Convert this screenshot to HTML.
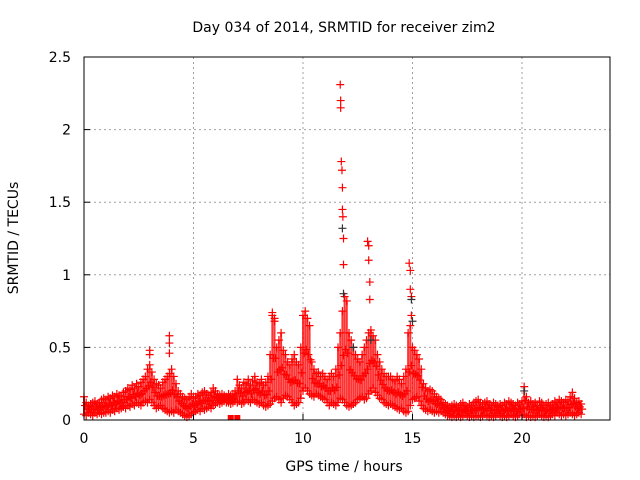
<!DOCTYPE html>
<html><head><meta charset="utf-8"><style>
body{margin:0;background:#fff;}
svg{display:block;font-family:"DejaVu Sans","Liberation Sans",sans-serif;font-size:14px;}
</style></head><body>
<svg id="chart" width="640" height="480" viewBox="0 0 640 480">
<rect width="640" height="480" fill="#fff"/>
<text x="344" y="32" text-anchor="middle">Day 034 of 2014, SRMTID for receiver zim2</text>
<text x="344" y="471" text-anchor="middle">GPS time / hours</text>
<text transform="translate(18,238) rotate(-90)" text-anchor="middle">SRMTID / TECUs</text>
<g id="grid"></g><g id="marks"></g><g id="axes"></g>
</svg>
<script>
const xTicks=[0,5,10,15,20];
const yTicks=[0,0.5,1,1.5,2,2.5];
const yTickLabels=["0","0.5","1","1.5","2","2.5"];
const bandStart=0, bandStep=0.1;
const bandLow=[.04,.03,.05,.04,.03,.05,.04,.05,.04,.05,
.05,.06,.05,.07,.06,.08,.07,.08,.09,.08,
.10,.09,.11,.10,.12,.11,.10,.12,.13,.12,
.14,.12,.10,.08,.09,.10,.08,.07,.06,.05,
.06,.05,.07,.06,.05,.04,.03,.02,.03,.04,
.05,.06,.07,.06,.08,.07,.08,.09,.08,.10,
.11,.12,.11,.12,.13,.12,.12,.11,.12,.13,
.12,.13,.11,.12,.14,.13,.12,.14,.13,.12,
.11,.12,.10,.09,.10,.11,.13,.15,.16,.14,
.12,.15,.17,.16,.14,.12,.10,.11,.12,.15,
.20,.22,.20,.18,.17,.16,.18,.17,.16,.15,
.14,.12,.10,.12,.11,.10,.12,.15,.14,.12,
.10,.09,.10,.11,.12,.14,.15,.16,.14,.15,
.18,.20,.22,.19,.17,.15,.14,.12,.11,.10,
.11,.10,.09,.08,.07,.08,.06,.05,.06,.10,
.14,.15,.16,.13,.10,.08,.07,.06,.07,.06,
.05,.06,.05,.06,.05,.04,.03,.03,.02,.03,
.02,.03,.02,.03,.04,.03,.02,.03,.02,.03,
.03,.02,.03,.04,.03,.02,.03,.02,.03,.04,
.03,.02,.03,.02,.03,.04,.03,.02,.03,.04,
.03,.04,.02,.03,.02,.03,.02,.03,.04,.03,
.02,.03,.02,.03,.04,.03,.05,.04,.03,.04,
.03,.04,.05,.04,.03,.04,.05,.04];
const bandHigh=[.16,.12,.10,.11,.12,.13,.11,.12,.14,.15,
.14,.16,.15,.17,.16,.18,.17,.16,.19,.20,
.22,.21,.24,.22,.25,.23,.26,.28,.30,.35,
.38,.33,.28,.25,.24,.22,.26,.28,.30,.32,
.35,.30,.25,.20,.18,.16,.15,.14,.16,.18,
.15,.16,.18,.17,.19,.20,.18,.17,.19,.22,
.20,.18,.17,.18,.17,.16,.18,.17,.18,.20,
.28,.24,.22,.26,.25,.28,.24,.27,.30,.26,
.25,.28,.24,.26,.30,.45,.72,.70,.50,.55,
.60,.48,.45,.40,.38,.42,.45,.40,.38,.50,
.72,.75,.70,.65,.40,.35,.32,.33,.30,.32,
.30,.28,.30,.32,.30,.35,.50,.60,.75,.85,
.82,.60,.55,.50,.45,.42,.40,.45,.50,.55,
.60,.62,.58,.55,.45,.40,.35,.32,.30,.30,
.30,.28,.27,.30,.28,.25,.30,.35,.60,.65,
.50,.48,.45,.42,.35,.25,.22,.20,.21,.20,
.18,.16,.15,.14,.12,.11,.10,.09,.10,.11,
.10,.09,.11,.12,.10,.09,.11,.10,.12,.13,
.14,.12,.11,.12,.13,.11,.10,.12,.11,.10,
.11,.10,.12,.11,.13,.12,.11,.10,.12,.11,
.13,.23,.16,.12,.13,.11,.12,.10,.13,.12,
.10,.11,.12,.10,.11,.13,.12,.14,.13,.12,
.14,.13,.16,.19,.15,.12,.13,.11];
const spikeTimes=[3.0,3.0,3.9,3.9,3.9,8.6,8.7,11.7,11.72,11.72,11.75,11.78,11.8,11.8,11.82,11.85,11.85,12.95,13.0,13.0,13.05,13.05,14.85,14.9,14.9,14.95,14.95];
const spikeValues=[.48,.45,.58,.53,.46,.74,.68,2.31,2.2,2.15,1.78,1.72,1.6,1.45,1.4,1.25,1.07,1.23,1.2,1.1,.95,.83,1.08,1.03,.9,.85,.72];
const blackTimes=[11.8,11.85,12.3,13.1,14.95,15.0,20.1];
const blackValues=[1.32,.87,.5,.55,.83,.68,.2];
const zeroTimes=[6.7,7.0];

const L=84,R=610,T=57,B=420;
const xs=t=>L+t*(303-84)/10;
const ys=v=>B-v*(B-T)/2.5;
const NS="http://www.w3.org/2000/svg";
function mk(parent,tag,attrs){const e=document.createElementNS(NS,tag);for(const k in attrs)e.setAttribute(k,attrs[k]);parent.appendChild(e);return e;}
const grid=document.getElementById('grid'),marks=document.getElementById('marks'),axes=document.getElementById('axes');
xTicks.forEach(t=>{
  if(t>0){const g=mk(grid,'line',{x1:xs(t),x2:xs(t),y1:T,y2:B,stroke:'#a0a0a0','stroke-dasharray':'2,3'});
  
  }
  const tk=mk(axes,'line',{x1:xs(t),x2:xs(t),y1:B,y2:B-6,stroke:'#000'});
  
  
  const lb=mk(axes,'text',{x:xs(t),y:443,'text-anchor':'middle'});lb.textContent=t;
  
  
});
yTicks.forEach((v,i)=>{
  if(v>0&&v<2.5){const g=mk(grid,'line',{x1:L,x2:R,y1:ys(v),y2:ys(v),stroke:'#a0a0a0','stroke-dasharray':'2,3'});
  
  }
  const tk=mk(axes,'line',{x1:L,x2:L+6,y1:ys(v),y2:ys(v),stroke:'#000'});
  
  
  const lb=mk(axes,'text',{x:L-13,y:ys(v)+5,'text-anchor':'end'});lb.textContent=yTickLabels[i];
  
  
});
const frame=mk(axes,'rect',{x:L,y:T,width:R-L,height:B-T,fill:'none',stroke:'#000'});


function plus(x,y,c){const p=mk(marks,'path',{d:`M${x-4},${y}h8M${x},${y-4}v8`,stroke:c,'stroke-width':1.2,fill:'none'});return p;}
bandLow.forEach((lo,i)=>{
  const t=bandStart+i*bandStep,x=xs(t),hi=bandHigh[i];
  const bar=mk(marks,'rect',{x:x-1,y:ys(hi),width:2,height:ys(lo)-ys(hi),fill:'#f00','fill-opacity':0.8});
  
  
  const a=plus(x,ys(lo),'#f00');
  
  
  const b=plus(x,ys(hi),'#f00');
  
  
  const m=plus(x+1,(ys(lo)+ys(hi))/2,'#f00');
  
  
});
spikeTimes.forEach((t,i)=>{
  const p=plus(xs(t),ys(spikeValues[i]),'#f00');
  
  
});
blackTimes.forEach((t,i)=>{
  const p=plus(xs(t),ys(blackValues[i]),'#333');
  
  
});
zeroTimes.forEach(t=>{
  const r=mk(marks,'rect',{x:xs(t)-3,y:B-5,width:6,height:5,fill:'#f00'});
  
  
});
</script>
</body></html>
